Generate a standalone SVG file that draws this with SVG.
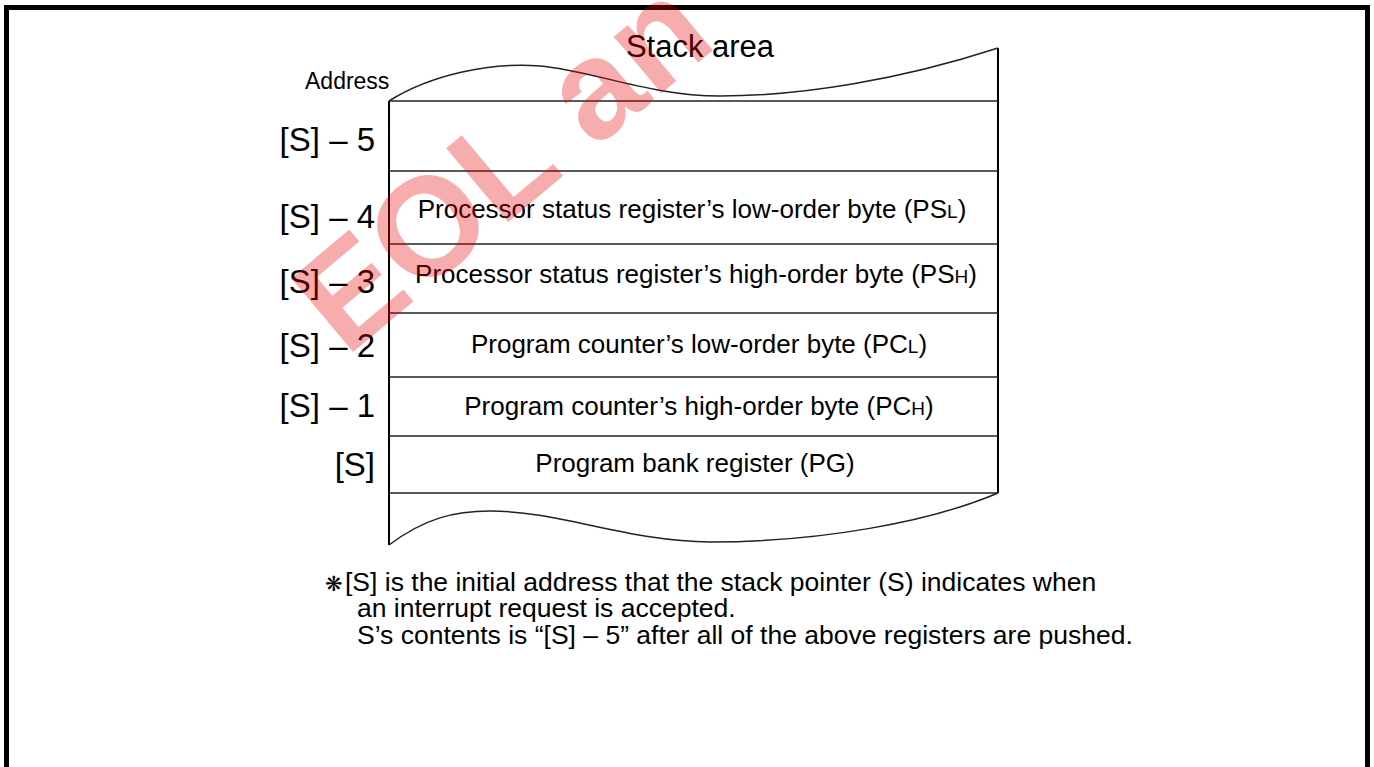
<svg xmlns="http://www.w3.org/2000/svg" width="1374" height="767" viewBox="0 0 1374 767">
<style>
.t{font-family:"Liberation Sans",Arial,sans-serif;fill:#000}
.cell{font-size:26px;text-anchor:middle}
.sub{font-size:19px}
.lab{font-size:33px;text-anchor:end}
.note{font-size:26.5px}
.ln{stroke:#222;stroke-width:1.5;fill:none}
.edge{stroke:#000;stroke-width:2;fill:none}
</style>
<rect width="1374" height="767" fill="#fff"/>
<path d="M6.5,767 V7.5 H1367.5 V767" fill="none" stroke="#000" stroke-width="5"/>
<g id="stack-frame">
<path class="ln" d="M389,101 C430,75 490,62 540,66 C590,70 650,96 720,96 C800,96 900,80 998,48"/>
<path class="ln" d="M389,545 C425,518 455,511 490,511 C560,511 630,542 710,542 C820,542 930,522 998,493"/>
<path class="edge" d="M389,101 V545 M998,48 V493"/>
<path class="ln" d="M389,101 H998"/>
</g>
<text class="t" x="700" y="57" font-size="31" text-anchor="middle">Stack area</text>
<text class="t" x="305" y="89" font-size="23">Address</text>
<g id="row-s5">
<path class="ln" d="M389,171 H998"/>
<text class="t lab" x="375" y="151">[S] – 5</text>
</g>
<g id="row-s4">
<path class="ln" d="M389,244 H998"/>
<text class="t lab" x="375" y="228">[S] – 4</text>
<text class="t cell" x="692" y="218">Processor status register’s low-order byte (PS<tspan class="sub">L</tspan>)</text>
</g>
<g id="row-s3">
<path class="ln" d="M389,313 H998"/>
<text class="t lab" x="375" y="293">[S] – 3</text>
<text class="t cell" x="696" y="283">Processor status register’s high-order byte (PS<tspan class="sub">H</tspan>)</text>
</g>
<g id="row-s2">
<path class="ln" d="M389,377 H998"/>
<text class="t lab" x="375" y="357">[S] – 2</text>
<text class="t cell" x="699" y="353">Program counter’s low-order byte (PC<tspan class="sub">L</tspan>)</text>
</g>
<g id="row-s1">
<path class="ln" d="M389,436 H998"/>
<text class="t lab" x="375" y="417">[S] – 1</text>
<text class="t cell" x="699" y="415">Program counter’s high-order byte (PC<tspan class="sub">H</tspan>)</text>
</g>
<g id="row-s0">
<path class="ln" d="M389,493 H998"/>
<text class="t lab" x="375" y="476">[S]</text>
<text class="t cell" x="695" y="472">Program bank register (PG)</text>
</g>
<g id="footnote">
<text class="t" x="325" y="591" font-size="21" font-family="DejaVu Sans,sans-serif">❋</text>
<text class="t note" x="345" y="591">[S] is the initial address that the stack pointer (S) indicates when</text>
<text class="t note" x="357" y="617">an interrupt request is accepted.</text>
<text class="t note" x="357" y="644">S’s contents is “[S] – 5” after all of the above registers are pushed.</text>
</g>
<text x="346" y="358" transform="rotate(-40 346 358)" font-family="Liberation Sans,Arial,sans-serif" font-weight="bold" font-size="140" fill="#e60000" fill-opacity="0.32">EOL an</text>
</svg>
